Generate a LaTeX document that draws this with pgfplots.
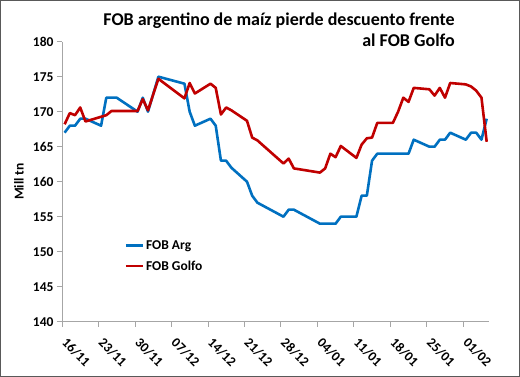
\documentclass[border=0pt]{standalone}
\usepackage{fontspec}
\setmainfont{Carlito}
\usepackage{pgfplots}
\pgfplotsset{compat=1.18}
\definecolor{argblue}{HTML}{0070C0}
\definecolor{golfred}{HTML}{C00000}
\definecolor{framegray}{HTML}{595959}
\begin{document}
\begin{tikzpicture}
\begin{axis}[
  at={(0,0)}, anchor=south west,
  scale only axis, width=427.3pt, height=280pt,
  xmin=-0.5, xmax=81.5, ymin=140, ymax=180,
  axis x line*=bottom, axis y line*=left,
  axis line style={black!35, line width=0.8pt},
  xtick={-0.5,6.5,13.5,20.5,27.5,34.5,41.5,48.5,55.5,62.5,69.5,76.5},
  xticklabels={16/11,23/11,30/11,07/12,14/12,21/12,28/12,04/01,11/01,18/01,25/01,01/02},
  ytick={140,145,150,155,160,165,170,175,180},
  tick align=outside, major tick length=5pt,
  tick style={black!35, line width=0.8pt},
  ticklabel style={font=\fontsize{13.5}{16}\selectfont\bfseries},
  /pgf/number format/assume math mode=true,
  xticklabel style={xshift=6pt, yshift=-10pt, rotate=-45, anchor=north west, inner sep=0pt},
  ylabel={Mill tn},
  ylabel style={font=\fontsize{13.5}{16}\selectfont\bfseries, at={(axis description cs:-0.1006,0.5007)}, anchor=center},
  legend style={draw=none, fill=none, at={(axis description cs:0.1458,0.2352)}, anchor=west, inner sep=0pt,
    font=\fontsize{13.5}{16}\selectfont\bfseries, cells={anchor=west}, row sep=6pt},
  legend image code/.code={\draw[#1] (0pt,0pt) -- (17pt,0pt);},
  every axis plot/.append style={line width=2.6pt, line join=round},
]
\addplot[argblue] coordinates {
(0,167) (1,168) (2,168) (3,169) (4,169) (7,168) (8,172) (9,172) (10,172)
(14,170) (15,172) (16,170) (18,175) (23,174) (24,170) (25,168)
(28,169) (29,168) (30,163) (31,163) (32,162) (35,160) (36,158) (37,157)
(42,155) (43,156) (44,156) (49,154) (50,154) (51,154) (52,154) (53,155)
(56,155) (57,158) (58,158) (59,163) (60,164) (63,164) (64,164) (65,164) (66,164)
(67,166) (70,165) (71,165) (72,166) (73,166) (74,167) (77,166) (78,167)
(79,167) (80,166) (81,169)
};
\addlegendentry{FOB Arg}
\addplot[golfred] coordinates {
(0,168.2) (1,169.8) (2,169.5) (3,170.6) (4,168.6) (8,169.5) (9,170.1)
(14,170.1) (15,171.8) (16,170.2) (18,174.7) (23,171.9) (24,174.1) (25,172.6)
(28,174.0) (29,173.4) (30,169.6) (31,170.6) (32,170.2) (35,168.7) (36,166.3)
(37,165.9) (42,162.6) (43,163.3) (44,161.9) (49,161.3) (50,161.9) (51,164.0)
(52,163.5) (53,165.1) (56,163.4) (57,165.3) (58,166.2) (59,166.3) (60,168.4)
(63,168.4) (64,170.0) (65,172.0) (66,171.4) (67,173.4) (70,173.2) (71,172.3)
(72,173.4) (73,172.0) (74,174.1) (77,173.9) (78,173.6) (79,173.0) (80,172.0)
(81,165.7)
};
\addlegendentry{FOB Golfo}
\end{axis}
\node[font=\fontsize{18}{22}\selectfont\bfseries, anchor=base east, inner sep=0pt] at (393pt,295.7pt) {FOB argentino de maíz pierde descuento frente};
\node[font=\fontsize{18}{22}\selectfont\bfseries, anchor=base east, inner sep=0pt] at (393pt,275.2pt) {al FOB Golfo};
\pgfresetboundingbox
\path[use as bounding box] (-62pt,-55.3pt) rectangle (458pt,321.7pt);
\draw[framegray, line width=1.2pt] (-61.4pt,-54.7pt) rectangle (457.4pt,321.1pt);
\end{tikzpicture}
\end{document}
